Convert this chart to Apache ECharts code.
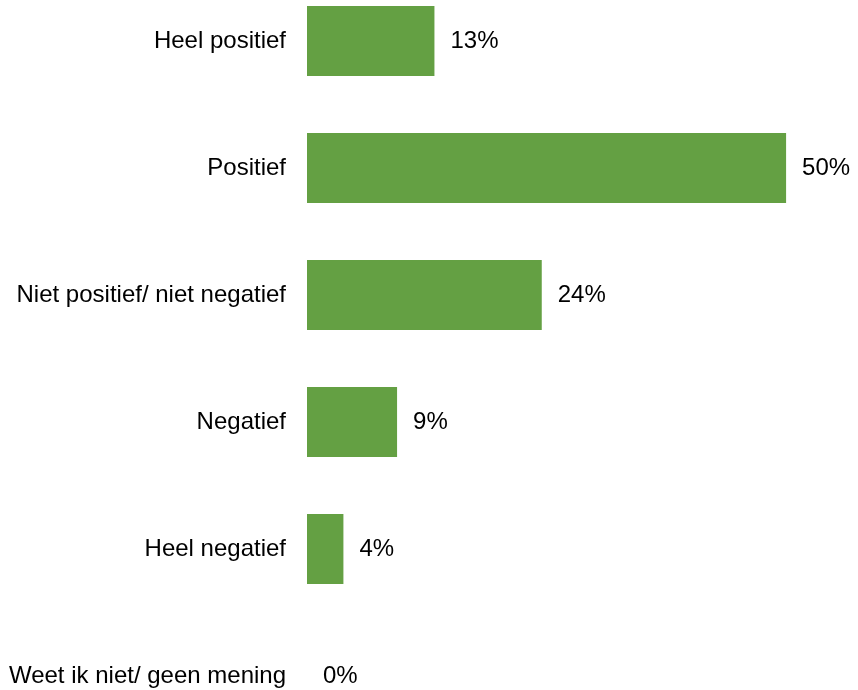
<!DOCTYPE html>
<html>
<head>
<meta charset="utf-8">
<script src="https://cdn.jsdelivr.net/npm/echarts@6/dist/echarts.min.js"></script>
<style>html,body{margin:0;padding:0;background:#fff;}#c{width:858px;height:690px;}</style>
</head>
<body>
<div id="c"></div>
<script>
const categories = ['Heel positief', 'Positief', 'Niet positief/ niet negatief', 'Negatief', 'Heel negatief', 'Weet ik niet/ geen mening'];
const values = [13.3, 50, 24.5, 9.4, 3.8, 0];
const labels = ['13%', '50%', '24%', '9%', '4%', '0%'];

const chart = echarts.init(document.getElementById('c'));
chart.setOption({
  animation: false,
  grid: { left: 307, top: -22.5, width: 527, height: 762, containLabel: false, outerBoundsMode: 'none' },
  xAxis: { type: 'value', min: 0, max: 55, show: false },
  yAxis: {
    type: 'category', data: categories, inverse: true,
    axisLine: { show: false }, axisTick: { show: false }, splitLine: { show: false },
    axisLabel: { margin: 21, color: '#000', fontSize: 24, fontFamily: 'Liberation Sans, Arial, sans-serif' }
  },
  series: [{
    type: 'bar', data: values, barWidth: 70,
    itemStyle: { color: '#64A043' },
    label: {
      show: true, position: 'right', distance: 16, color: '#000', fontSize: 24,
      fontFamily: 'Liberation Sans, Arial, sans-serif',
      formatter: p => labels[p.dataIndex]
    }
  }]
});
</script>
</body>
</html>
